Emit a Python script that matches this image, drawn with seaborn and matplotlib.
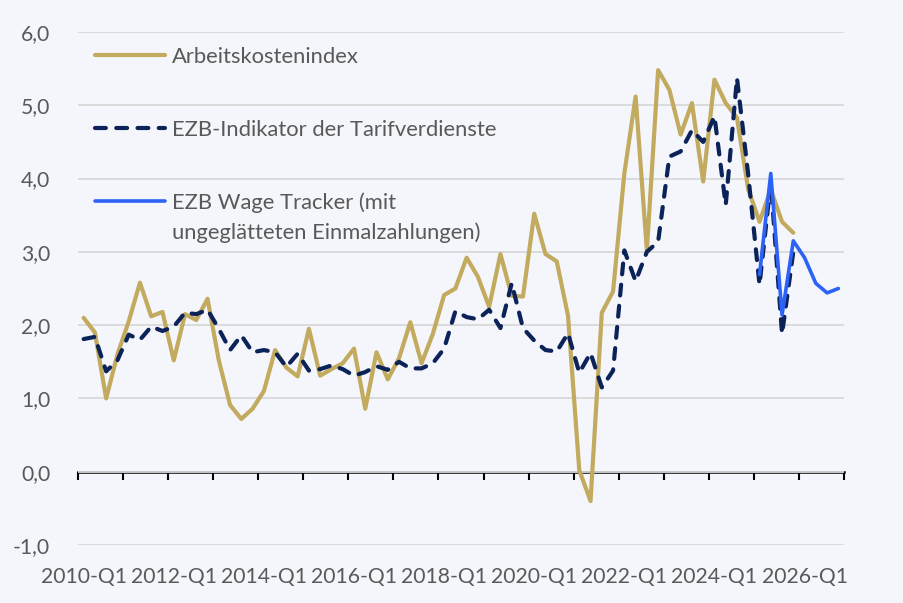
import numpy as np
import pandas as pd
import seaborn as sns
import matplotlib.pyplot as plt
from matplotlib.ticker import FuncFormatter

# --- data (quarterly, 2010-Q1 .. 2026-Q4) ---
quarters = [f"{y}-Q{q}" for y in range(2010, 2027) for q in range(1, 5)]

arbeitskosten = [2.10, 1.90, 1.00, 1.60, 2.05, 2.58, 2.12, 2.18,
                 1.52, 2.15, 2.07, 2.36, 1.52, 0.91, 0.72, 0.86,
                 1.10, 1.66, 1.42, 1.30, 1.95, 1.31, 1.40, 1.48,
                 1.68, 0.86, 1.63, 1.26, 1.55, 2.04, 1.48, 1.88,
                 2.41, 2.50, 2.92, 2.66, 2.25, 2.97, 2.40, 2.39,
                 3.52, 2.97, 2.87, 2.13, 0.02, -0.40, 2.17, 2.46,
                 4.07, 5.12, 3.02, 5.48, 5.21, 4.60, 5.03, 3.96,
                 5.35, 5.03, 4.83, 3.85, 3.41, 3.85, 3.41, 3.26]

tarifverdienste = [1.81, 1.84, 1.37, 1.52, 1.87, 1.80, 1.98, 1.92,
                   1.98, 2.17, 2.15, 2.21, 1.95, 1.66, 1.86, 1.63,
                   1.66, 1.63, 1.43, 1.61, 1.38, 1.40, 1.45, 1.40,
                   1.31, 1.36, 1.44, 1.39, 1.50, 1.41, 1.41, 1.48,
                   1.68, 2.19, 2.11, 2.08, 2.21, 1.96, 2.57, 1.96,
                   1.79, 1.66, 1.64, 1.89, 1.35, 1.62, 1.15, 1.38,
                   3.02, 2.60, 3.00, 3.14, 4.30, 4.37, 4.66, 4.50,
                   4.85, 3.64, 5.37, 4.05, 2.55, 3.95, 1.88, 3.00]

# wage tracker starts 2025-Q1
wage_tracker_start = "2025-Q1"
wage_tracker = [2.69, 4.07, 2.14, 3.15, 2.92, 2.57, 2.44, 2.50]

labels = ["Arbeitskostenindex",
          "EZB-Indikator der Tarifverdienste",
          "EZB Wage Tracker (mit",
          "ungeglätteten Einmalzahlungen)"]

# --- build one frame on the quarter grid ---
df = pd.DataFrame({"quarter": quarters, "pos": np.arange(len(quarters))})
df["lci"] = pd.Series(arbeitskosten)
df["nego"] = pd.Series(tarifverdienste)
start = quarters.index(wage_tracker_start)
df["tracker"] = np.nan
df.loc[start:start + len(wage_tracker) - 1, "tracker"] = wage_tracker

bg = "#F4F6FB"
gold = "#C2AA5F"
navy = "#0B2358"
blue = "#2C63F6"
txt = "#595959"

sns.set_style("white")
plt.rcParams["font.family"] = ["Lato", "DejaVu Sans"]

fig = plt.figure(figsize=(9.04, 6.03), dpi=100, facecolor=bg)
ax = fig.add_axes([78 / 904, 1 - 545 / 603, 766 / 904, 513 / 603])
ax.set_facecolor(bg)

sns.lineplot(data=df, x="pos", y="lci", ax=ax, color=gold, lw=3.0,
             label=labels[0], zorder=3)
sns.lineplot(data=df, x="pos", y="nego", ax=ax, color=navy, lw=3.0,
             linestyle=(0, (2.6, 2.5)), dash_capstyle="round",
             label=labels[1], zorder=4)
sns.lineplot(data=df, x="pos", y="tracker", ax=ax, color=blue, lw=2.6,
             label=labels[2], zorder=5)

ax.set_xlim(-0.5, len(quarters) - 0.5)
ax.set_ylim(-1, 6)
ax.set_xlabel("")
ax.set_ylabel("")

# y axis
ax.set_yticks(np.arange(-1, 7, 1))
ax.yaxis.set_major_formatter(FuncFormatter(lambda v, p: f"{v:.1f}".replace(".", ",")))
ax.yaxis.grid(True, color="#D9D9D9", lw=1.3)
ax.set_axisbelow(True)

# x labels every two years, placed at the bottom
ax.set_xticks(df["pos"][::8])
ax.set_xticklabels(df["quarter"][::8])
ax.tick_params(axis="both", length=0, labelsize=15.2, labelcolor=txt)
ax.tick_params(axis="x", pad=16)
ax.tick_params(axis="y", pad=20)
for s in ax.spines.values():
    s.set_visible(False)

# zero line with yearly tick marks between categories
zero = ax.secondary_xaxis(1 / 7)
zero.spines["bottom"].set_linewidth(1.8)
zero.spines["bottom"].set_color("black")
zero.set_xticks(np.arange(-0.5, len(quarters), 4))
zero.tick_params(axis="x", direction="out", length=6, width=1.5,
                 color="black", labelbottom=False)

# legend
handles = ax.get_legend_handles_labels()[0]
leg = ax.legend(handles, labels[:3], loc="upper left",
                bbox_to_anchor=(0.022, 0.971), frameon=False,
                fontsize=15.8, labelcolor=txt, borderpad=0, borderaxespad=0,
                handlelength=3.2, handletextpad=0.3, labelspacing=2.4)
ax.annotate(labels[3], xy=(0, 0.5), xycoords=leg.get_texts()[2],
            xytext=(0, -21.6), textcoords="offset points",
            ha="left", va="center", fontsize=15.8, color=txt, zorder=6)

plt.savefig("out.png", dpi=100, facecolor=bg)
